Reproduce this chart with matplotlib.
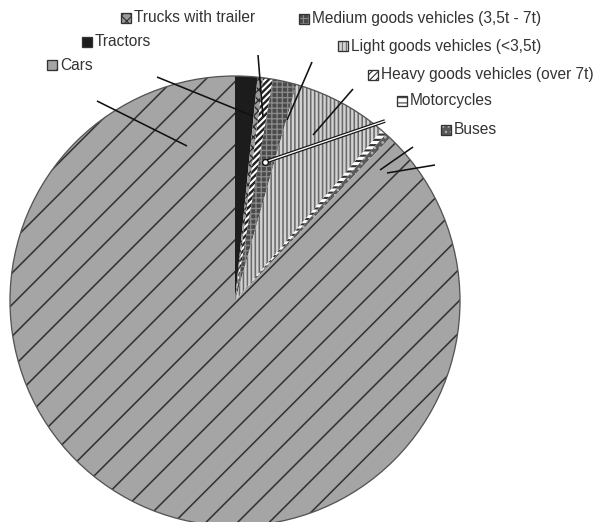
import numpy as np
import matplotlib.pyplot as plt
from matplotlib.patches import Rectangle, Circle

plt.rcParams['font.family'] = ['Liberation Sans', 'DejaVu Sans']
plt.rcParams['hatch.linewidth'] = 0.6

DPI = 190
W, H = 599, 522

# slices, clockwise from 12 o'clock
labels = ['Tractors', 'Trucks with trailer', 'Heavy goods vehicles (over 7t)',
          'Medium goods vehicles (3,5t - 7t)', 'Light goods vehicles (<3,5t)',
          'Motorcycles', 'Buses', 'Cars']
shares = [1.6, 0.4, 0.7, 1.7, 6.9, 0.4, 0.4, 87.9]

fills = ['#1c1c1c', '#9a9a9a', '#ffffff', '#4a4a4a', '#d2d2d2', '#ffffff', '#5a5a5a', '#a5a5a5']
hcols = ['#1c1c1c', '#2a2a2a', '#222222', '#8a8a8a', '#6a6a6a', '#333333', '#b5b5b5', '#333333']
hatches = [None, 'xxxxxx', '//////////', '++++++', '||||||||', '------', '......', '//']
hlw = [0.6, 0.5, 0.9, 0.5, 0.6, 0.8, 0.6, 0.6]

# legend entries placed around the top (pixel positions, y from top)
leg_pos = {'Trucks with trailer': (126, 18),
           'Medium goods vehicles (3,5t - 7t)': (304, 19),
           'Tractors': (87, 42),
           'Light goods vehicles (<3,5t)': (343, 46),
           'Cars': (52, 65),
           'Heavy goods vehicles (over 7t)': (373, 75),
           'Motorcycles': (402, 101),
           'Buses': (446, 130)}

# leader lines (pixel coords, y from top)
leaders = {'Tractors': [(157, 77), (253, 116)],
           'Cars': [(97, 101), (187, 146)],
           'Trucks with trailer': [(258, 55), (263, 117)],
           'Medium goods vehicles (3,5t - 7t)': [(312, 62), (287, 120)],
           'Light goods vehicles (<3,5t)': [(353, 89), (313, 135)],
           'Motorcycles': [(413, 147), (380, 170)],
           'Buses': [(435, 165), (387, 173)]}
heavy_leader = [(385, 121), (265, 162)]

fig = plt.figure(figsize=(W / DPI, H / DPI), dpi=DPI)
ax = fig.add_axes([0, 0, 1, 1])

wedges, _ = ax.pie(shares, center=(235, H - 301), radius=225, startangle=90,
                   counterclock=False, wedgeprops=dict(linewidth=0))
for w, fc, hc, ht, lw in zip(wedges, fills, hcols, hatches, hlw):
    w.set_facecolor(fc)
    w.set_edgecolor(hc)
    w.set_linewidth(0)
    if ht:
        w.set_hatch(ht)
        if hasattr(w, 'set_hatch_linewidth'):
            w.set_hatch_linewidth(lw)
ax.add_patch(Circle((235, H - 301), 225, fill=False, edgecolor='#555555', lw=0.5))

ax.set_xlim(0, W)
ax.set_ylim(0, H)
ax.axis('off')

for lab, pts in leaders.items():
    xs = [p[0] for p in pts]
    ys = [H - p[1] for p in pts]
    ax.plot(xs, ys, color='#111111', lw=0.6, solid_capstyle='butt')

xs = [p[0] for p in heavy_leader]
ys = [H - p[1] for p in heavy_leader]
ax.plot(xs, ys, color='#111111', lw=1.4, solid_capstyle='butt')
ax.plot(xs, ys, color='white', lw=0.5, solid_capstyle='butt')
ax.plot(xs[-1], ys[-1], 'o', ms=2.2, mfc='white', mec='#111111', mew=0.5)

for i, lab in enumerate(labels):
    x, y = leg_pos[lab]
    r = Rectangle((x - 5, H - y - 5), 10, 10, facecolor=fills[i],
                  edgecolor=hcols[i] if hatches[i] else '#222222',
                  hatch=hatches[i], lw=0)
    if hatches[i] and hasattr(r, 'set_hatch_linewidth'):
        r.set_hatch_linewidth(0.4)
    ax.add_patch(r)
    ax.add_patch(Rectangle((x - 5, H - y - 5), 10, 10, fill=False,
                           edgecolor='#333333', lw=0.5))
    ax.text(x + 8, H - y, lab, va='center', ha='left', fontsize=5.9, color='#333333')

fig.savefig('out.png', dpi=DPI)
